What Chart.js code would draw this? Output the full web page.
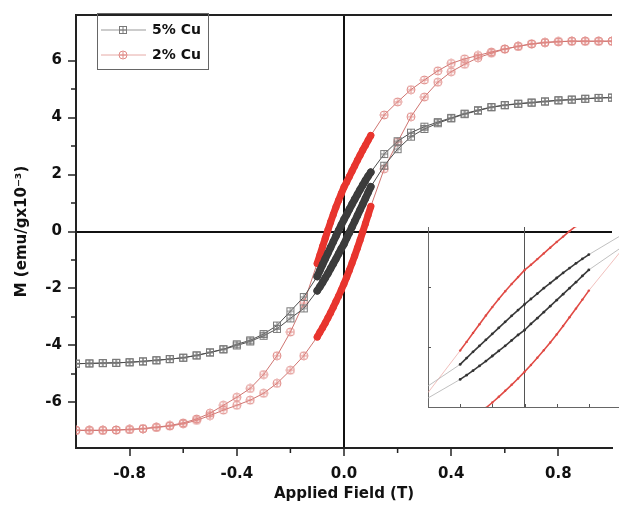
<!DOCTYPE html>
<html>
<head>
<meta charset="utf-8">
<script src="https://cdn.jsdelivr.net/npm/chart.js@4.4.1/dist/chart.umd.min.js"></script>
<style>
  html, body { margin: 0; padding: 0; background: #fff; overflow: hidden; }
  #wrap { position: relative; width: 619px; height: 506px; overflow: hidden; }
  #main { position: absolute; left: 0; top: 0; }
  #inset { position: absolute; left: 427px; top: 227px; }
</style>
</head>
<body>
<div id="wrap">
  <canvas id="main" width="621" height="506"></canvas>
  <canvas id="inset" width="194" height="181"></canvas>
</div>
<script>
// applied field (T), descending branch +1 -> -1 (dense steps near zero)
const fieldDown = [1.00, 0.95, 0.90, 0.85, 0.80, 0.75, 0.70, 0.65, 0.60, 0.55, 0.50, 0.45, 0.40, 0.35, 0.30, 0.25, 0.20, 0.15,
    0.10, 0.09, 0.08, 0.07, 0.06, 0.05, 0.04, 0.03, 0.02, 0.01, 0.00, -0.01, -0.02, -0.03, -0.04, -0.05, -0.06, -0.07, -0.08, -0.09, -0.10,
    -0.15, -0.20, -0.25, -0.30, -0.35, -0.40, -0.45, -0.50, -0.55, -0.60, -0.65, -0.70, -0.75, -0.80, -0.85, -0.90, -0.95, -1.00];
// ascending branch uses the same field steps, -1 -> +1
const fieldUp = [...fieldDown].reverse();

// M (emu/g x10^-3), 5% Cu
const cu5Down = [4.70, 4.69, 4.66, 4.63, 4.61, 4.57, 4.53, 4.49, 4.44, 4.37, 4.26, 4.14, 3.99, 3.84, 3.68, 3.47, 3.17, 2.72,
    2.08, 1.94, 1.79, 1.63, 1.47, 1.30, 1.13, 0.96, 0.78, 0.60, 0.42, 0.23, 0.04, -0.16, -0.36, -0.56, -0.76, -0.96, -1.16, -1.37, -1.58,
    -2.30, -2.80, -3.30, -3.60, -3.82, -3.96, -4.13, -4.24, -4.35, -4.43, -4.48, -4.52, -4.56, -4.59, -4.61, -4.62, -4.63, -4.64];
const cu5Up = [-4.64, -4.63, -4.62, -4.61, -4.59, -4.56, -4.52, -4.48, -4.43, -4.35, -4.25, -4.14, -4.00, -3.86, -3.66, -3.42, -3.05, -2.70,
    -2.08, -1.94, -1.79, -1.63, -1.47, -1.30, -1.13, -0.96, -0.78, -0.60, -0.44, -0.23, -0.04, 0.16, 0.36, 0.56, 0.76, 0.96, 1.16, 1.37, 1.57,
    2.31, 2.89, 3.33, 3.60, 3.80, 3.97, 4.12, 4.24, 4.36, 4.43, 4.48, 4.52, 4.56, 4.60, 4.63, 4.66, 4.69, 4.70];

// M (emu/g x10^-3), 2% Cu
const cu2Down = [6.68, 6.68, 6.68, 6.68, 6.67, 6.64, 6.59, 6.50, 6.41, 6.30, 6.18, 6.06, 5.90, 5.64, 5.32, 4.98, 4.55, 4.09,
    3.37, 3.20, 3.03, 2.86, 2.68, 2.50, 2.31, 2.12, 1.93, 1.74, 1.56, 1.33, 1.10, 0.86, 0.60, 0.33, 0.05, -0.24, -0.53, -0.83, -1.12,
    -2.52, -3.53, -4.36, -5.02, -5.51, -5.82, -6.10, -6.38, -6.58, -6.72, -6.81, -6.87, -6.92, -6.95, -6.97, -6.98, -6.98, -6.98];
const cu2Up = [-6.98, -6.98, -6.98, -6.97, -6.95, -6.92, -6.88, -6.83, -6.75, -6.63, -6.46, -6.27, -6.10, -5.92, -5.68, -5.33, -4.87, -4.36,
    -3.70, -3.54, -3.38, -3.21, -3.03, -2.85, -2.66, -2.46, -2.26, -2.05, -1.83, -1.60, -1.36, -1.11, -0.85, -0.58, -0.30, -0.01, 0.28, 0.58, 0.88,
    2.20, 3.14, 4.03, 4.72, 5.24, 5.61, 5.87, 6.10, 6.26, 6.40, 6.50, 6.58, 6.63, 6.66, 6.68, 6.68, 6.68, 6.68];

const seriesNames = ['5% Cu', '2% Cu'];
const xTicks = [-0.8, -0.4, 0, 0.4, 0.8];
const yTicks = [-6, -4, -2, 0, 2, 4, 6];

function loop(down, up) {
    return fieldDown.map((x, i) => ({ x: x, y: down[i] }))
        .concat(fieldUp.map((x, i) => ({ x: x, y: up[i] })));
}

function marker(shape, color) {
    const c = document.createElement('canvas');
    c.width = 10; c.height = 10;
    const g = c.getContext('2d');
    g.strokeStyle = color;
    g.lineWidth = 1;
    if (shape === 'square') {
        g.strokeRect(1.5, 1.5, 7, 7);
    } else {
        g.beginPath();
        g.arc(5, 5, 4, 0, Math.PI * 2);
        g.stroke();
    }
    g.beginPath();
    g.moveTo(5, 1.5); g.lineTo(5, 8.5);
    g.moveTo(1.5, 5); g.lineTo(8.5, 5);
    g.stroke();
    return c;
}

const grayMark = marker('square', '#7a7a7a');
const redMark = marker('circle', '#e08a86');
const isDense = ctx => ctx.raw && Math.abs(ctx.raw.x) < 0.1001;
const denseSeg = ctx => Math.abs(ctx.p0.parsed.x) < 0.1001 && Math.abs(ctx.p1.parsed.x) < 0.1001;
const near = (v, list) => list.some(t => Math.abs(t - v) < 1e-6);
const tickFont = { family: 'DejaVu Sans', weight: 'bold', size: 15 };

const frame = {
    id: 'frame',
    afterDraw(chart) {
        const { ctx, chartArea: a, scales } = chart;
        ctx.save();
        ctx.strokeStyle = '#222';
        ctx.lineWidth = 2;
        ctx.beginPath();
        ctx.moveTo(a.left, a.top);
        ctx.lineTo(a.right, a.top);
        ctx.stroke();
        // minor ticks
        ctx.lineWidth = 1.5;
        ctx.beginPath();
        scales.x.ticks.forEach(t => {
            if (near(t.value, xTicks) || Math.abs(t.value) > 0.99) return;
            const px = scales.x.getPixelForValue(t.value);
            ctx.moveTo(px, a.bottom); ctx.lineTo(px, a.bottom + 5);
        });
        scales.y.ticks.forEach(t => {
            if (near(t.value, yTicks) || Math.abs(t.value) > 7.5) return;
            const py = scales.y.getPixelForValue(t.value);
            ctx.moveTo(a.left - 5, py); ctx.lineTo(a.left, py);
        });
        ctx.stroke();
        // legend box
        ctx.strokeStyle = '#666';
        ctx.lineWidth = 1;
        ctx.strokeRect(97.5, 13.5, 111, 56);
        chart.data.datasets.forEach((ds, i) => {
            const y = 30 + i * 25;
            ctx.strokeStyle = ds.legendLine;
            ctx.beginPath();
            ctx.moveTo(101, y); ctx.lineTo(146, y);
            ctx.stroke();
            ctx.drawImage(ds.legendMark, 118, y - 5);
            ctx.fillStyle = '#111';
            ctx.font = 'bold 14px "DejaVu Sans"';
            ctx.textBaseline = 'middle';
            ctx.fillText(ds.label, 152, y);
        });
        ctx.restore();
    }
};

new Chart(document.getElementById('main'), {
    type: 'scatter',
    data: {
        datasets: [
            {
                label: seriesNames[0],
                data: loop(cu5Down, cu5Up),
                showLine: true,
                borderColor: '#4d4d4d',
                borderWidth: 1,
                borderCapStyle: 'round',
                borderJoinStyle: 'round',
                segment: {
                    borderColor: ctx => denseSeg(ctx) ? '#3c3c3c' : '#4d4d4d',
                    borderWidth: ctx => denseSeg(ctx) ? 7.5 : 1
                },
                legendLine: '#999',
                legendMark: grayMark,
                pointStyle: ctx => isDense(ctx) ? 'circle' : grayMark,
                pointRadius: ctx => isDense(ctx) ? 3.7 : 5,
                pointBackgroundColor: '#3c3c3c',
                pointBorderWidth: 0
            },
            {
                label: seriesNames[1],
                data: loop(cu2Down, cu2Up),
                showLine: true,
                borderColor: '#cf7470',
                borderWidth: 1,
                borderCapStyle: 'round',
                borderJoinStyle: 'round',
                segment: {
                    borderColor: ctx => denseSeg(ctx) ? '#e8352e' : '#cf7470',
                    borderWidth: ctx => denseSeg(ctx) ? 7 : 1
                },
                legendLine: '#e6aaa6',
                legendMark: redMark,
                pointStyle: ctx => isDense(ctx) ? 'circle' : redMark,
                pointRadius: ctx => isDense(ctx) ? 3.5 : 5,
                pointBackgroundColor: '#e8352e',
                pointBorderWidth: 0
            }
        ]
    },
    options: {
        responsive: false,
        animation: false,
        layout: { padding: { top: 7, left: 0, right: 0, bottom: 0 } },
        plugins: { legend: { display: false }, tooltip: { enabled: false } },
        scales: {
            x: {
                type: 'linear',
                min: -1,
                max: 1,
                z: 1,
                afterFit: s => { s.height = 58; },
                ticks: {
                    stepSize: 0.2,
                    autoSkip: false,
                    maxRotation: 0,
                    padding: 9,
                    color: '#111',
                    font: tickFont,
                    callback: v => near(v, xTicks) ? (Math.abs(v) < 1e-6 ? '0.0' : v.toFixed(1)) : ''
                },
                grid: {
                    color: ctx => Math.abs(ctx.tick.value) < 1e-6 ? '#111' : 'rgba(0,0,0,0)',
                    lineWidth: 2,
                    tickLength: 8,
                    tickWidth: 1.5,
                    tickColor: ctx => near(ctx.tick.value, xTicks) ? '#222' : 'rgba(0,0,0,0)'
                },
                border: { color: '#222', width: 2 },
                title: {
                    display: true,
                    text: 'Applied Field (T)',
                    color: '#111',
                    font: tickFont,
                    padding: { top: 0, bottom: 3 }
                }
            },
            y: {
                type: 'linear',
                min: -7.6,
                max: 7.6,
                z: 1,
                afterFit: s => { s.width = 76; },
                ticks: {
                    stepSize: 1,
                    padding: 6,
                    color: '#111',
                    font: tickFont,
                    callback: v => {
                        if (Math.abs(v - Math.round(v)) > 1e-6) return null;
                        return near(v, yTicks) ? String(Math.round(v)) : '';
                    }
                },
                grid: {
                    color: ctx => Math.abs(ctx.tick.value) < 1e-6 ? '#111' : 'rgba(0,0,0,0)',
                    lineWidth: 2,
                    tickLength: 8,
                    tickWidth: 1.5,
                    tickColor: ctx => near(ctx.tick.value, yTicks) ? '#222' : 'rgba(0,0,0,0)'
                },
                border: { color: '#222', width: 2 },
                title: {
                    display: true,
                    text: 'M (emu/gx10⁻³)',
                    color: '#111',
                    font: tickFont,
                    padding: { top: 13, bottom: 0 }
                }
            }
        }
    },
    plugins: [frame]
});

// inset: zoom of the low-field part of the same loops
const insetTicks = {
    id: 'insetTicks',
    afterDraw(chart) {
        const { ctx, chartArea: a, scales } = chart;
        ctx.save();
        ctx.strokeStyle = '#555';
        ctx.lineWidth = 1;
        ctx.beginPath();
        scales.x.ticks.forEach(t => {
            if (Math.abs(t.value) > 0.14) return;
            const px = Math.round(scales.x.getPixelForValue(t.value)) + 0.5;
            ctx.moveTo(px, a.bottom); ctx.lineTo(px, a.bottom - 3);
        });
        scales.y.ticks.forEach(t => {
            if (Math.abs(t.value) > 2.9) return;
            const py = Math.round(scales.y.getPixelForValue(t.value)) + 0.5;
            ctx.moveTo(a.left, py); ctx.lineTo(a.left + 3, py);
        });
        ctx.stroke();
        ctx.restore();
    }
};

const segStyle = (dark, light) => ({
    borderColor: ctx => denseSeg(ctx) ? dark : light,
    borderWidth: ctx => denseSeg(ctx) ? 1.6 : 0.8
});

new Chart(document.getElementById('inset'), {
    type: 'scatter',
    data: {
        datasets: [
            {
                label: seriesNames[0],
                data: loop(cu5Down, cu5Up),
                showLine: true,
                borderColor: '#aaa',
                segment: segStyle('#3a3a3a', '#b0b0b0'),
                pointRadius: ctx => isDense(ctx) ? 1.4 : 0,
                pointBackgroundColor: '#333',
                pointBorderWidth: 0
            },
            {
                label: seriesNames[1],
                data: loop(cu2Down, cu2Up),
                showLine: true,
                borderColor: '#eaa',
                segment: segStyle('#e04a44', '#eeb0ac'),
                pointRadius: ctx => isDense(ctx) ? 1.2 : 0,
                pointBackgroundColor: '#e04a44',
                pointBorderWidth: 0
            }
        ]
    },
    options: {
        responsive: false,
        animation: false,
        layout: { padding: { top: 0, left: 1, right: 0, bottom: 1 } },
        plugins: { legend: { display: false }, tooltip: { enabled: false } },
        scales: {
            x: {
                type: 'linear',
                min: -0.15,
                max: 0.15,
                ticks: { display: false, stepSize: 0.05 },
                grid: {
                    drawTicks: false,
                    color: ctx => Math.abs(ctx.tick.value) < 1e-6 ? '#555' : 'rgba(0,0,0,0)',
                    lineWidth: 1
                },
                border: { color: '#666', width: 1 }
            },
            y: {
                type: 'linear',
                min: -3,
                max: 3,
                ticks: { display: false, stepSize: 2 },
                grid: {
                    drawTicks: false,
                    color: ctx => Math.abs(ctx.tick.value) < 1e-6 ? '#555' : 'rgba(0,0,0,0)',
                    lineWidth: 1
                },
                border: { color: '#666', width: 1 }
            }
        }
    },
    plugins: [insetTicks]
});
</script>
</body>
</html>
